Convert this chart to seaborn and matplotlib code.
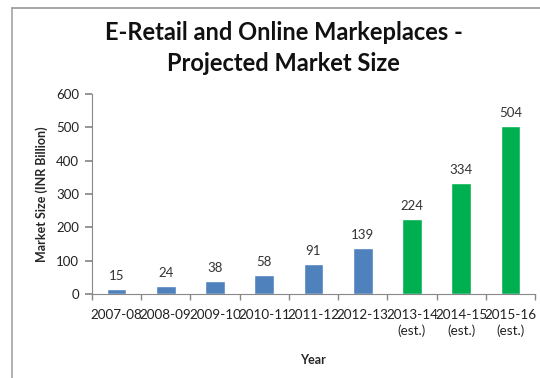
import matplotlib
matplotlib.use("Agg")
import matplotlib.pyplot as plt
from matplotlib.lines import Line2D
import seaborn as sns
import pandas as pd

# Fiscal years and market size (INR billion)
years = ["2007-08", "2008-09", "2009-10", "2010-11", "2011-12",
         "2012-13", "2013-14\n(est.)", "2014-15\n(est.)", "2015-16\n(est.)"]
market_size = [15, 24, 38, 58, 91, 139, 224, 334, 504]
is_estimate = [False] * 6 + [True] * 3

ACTUAL = "#4F81BD"
ESTIMATE = "#00B050"

sns.set_theme(style="white")
plt.rcParams["font.family"] = ["Lato", "DejaVu Sans"]

df = pd.DataFrame({"Year": years, "Size": market_size})
colors = [ESTIMATE if e else ACTUAL for e in is_estimate]

fig = plt.figure(figsize=(5.4, 3.78), dpi=100)
ax = fig.add_axes([0.170, 0.222, 0.821, 0.529])

sns.barplot(data=df, x="Year", y="Size", hue="Year", palette=colors,
            width=0.4, legend=False, ax=ax, saturation=1)

for cont in ax.containers:
    ax.bar_label(cont, padding=5, fontsize=9.5, color="#333333")

ax.set_ylim(0, 600)
ax.set_xlim(-0.5, len(years) - 0.5)
ax.set_yticks(range(0, 601, 100))
ax.tick_params(axis="y", labelsize=9.5, colors="#222222", length=5,
               direction="out", left=True, color="#888888", pad=4)
ax.tick_params(axis="x", which="major", labelsize=9.7, length=0, pad=11,
               colors="#222222")
ax.set_xticks([i - 0.5 for i in range(len(years) + 1)], minor=True)
ax.tick_params(axis="x", which="minor", length=4, direction="out",
               bottom=True, color="#888888")
for lbl in ax.get_xticklabels():
    lbl.set_linespacing(1.3)

for side in ("top", "right"):
    ax.spines[side].set_visible(False)
for side in ("left", "bottom"):
    ax.spines[side].set_color("#888888")
    ax.spines[side].set_linewidth(0.8)

ax.set_xlabel("Year", fontsize=9, fontweight="bold", labelpad=12)
ax.set_ylabel("Market Size (INR Billion)", fontsize=9, fontweight="bold",
              labelpad=6)

fig.suptitle("E-Retail and Online Markeplaces -\nProjected Market Size",
             x=0.525, y=0.945, fontsize=17, fontweight="bold",
             linespacing=1.45, color="#111111")

# Outer chart frame
fig.add_artist(Line2D([11.5 / 540, 11.5 / 540], [0, 1 - 8 / 378],
                      transform=fig.transFigure, color="#aaaaaa", lw=1.3))
fig.add_artist(Line2D([11.5 / 540, 1], [1 - 8 / 378, 1 - 8 / 378],
                      transform=fig.transFigure, color="#999999", lw=1.2))

fig.savefig("out.png", dpi=100)
